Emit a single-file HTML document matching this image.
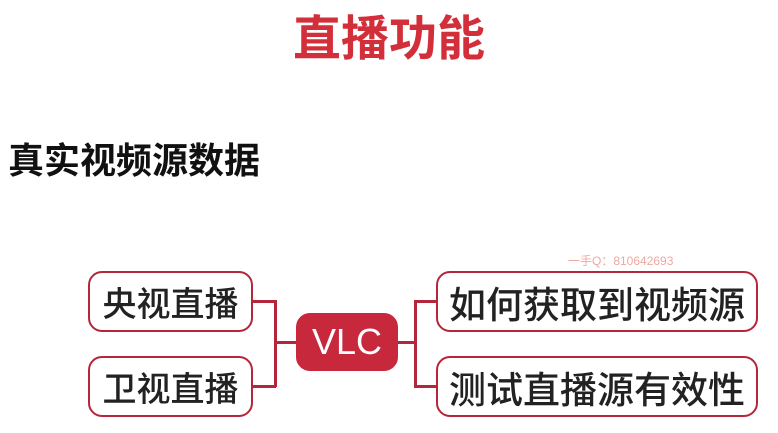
<!DOCTYPE html>
<html><head><meta charset="utf-8"><style>
body{margin:0;width:778px;height:433px;background:#fff;position:relative;overflow:hidden;font-family:"Liberation Sans","Noto Sans CJK SC",sans-serif;}
.t{position:absolute;white-space:nowrap}
.box{position:absolute;border:2.5px solid #b5263a;border-radius:14px;background:#fff;box-sizing:border-box;color:#222;display:flex;align-items:center;justify-content:center;font-size:34px;font-weight:500;}
.ln{position:absolute;background:#b5263a}
</style></head><body>
<div class="t" style="left:0;width:778px;top:-1px;text-align:center;font-size:48px;font-weight:bold;color:#d32f3a;">直播功能</div>
<div class="t" style="left:8px;top:132px;font-size:36px;font-weight:bold;color:#111;">真实视频源数据</div>
<div class="t" style="left:568px;top:252px;font-size:12px;color:#f0a8a0;">一手Q：810642693</div>
<div class="ln" style="left:252px;top:300px;width:24px;height:2.5px"></div>
<div class="ln" style="left:252px;top:385px;width:24px;height:2.5px"></div>
<div class="ln" style="left:274px;top:300px;width:2.5px;height:87px"></div>
<div class="ln" style="left:274px;top:341px;width:24px;height:2.5px"></div>
<div class="ln" style="left:396px;top:341px;width:20px;height:2.5px"></div>
<div class="ln" style="left:414px;top:300px;width:2.5px;height:87px"></div>
<div class="ln" style="left:414px;top:300px;width:24px;height:2.5px"></div>
<div class="ln" style="left:414px;top:385px;width:24px;height:2.5px"></div>
<div class="box" style="left:88px;top:271px;width:165px;height:61px;">央视直播</div>
<div class="box" style="left:88px;top:356px;width:165px;height:61px;">卫视直播</div>
<div class="box" style="left:296px;top:313px;width:102px;height:58px;background:#c8283c;border-color:#c8283c;color:#fff;font-size:36px;">VLC</div>
<div class="box" style="left:436px;top:271px;width:322px;height:61px;font-size:37px;">如何获取到视频源</div>
<div class="box" style="left:436px;top:356px;width:322px;height:61px;font-size:37px;">测试直播源有效性</div>
</body></html>
